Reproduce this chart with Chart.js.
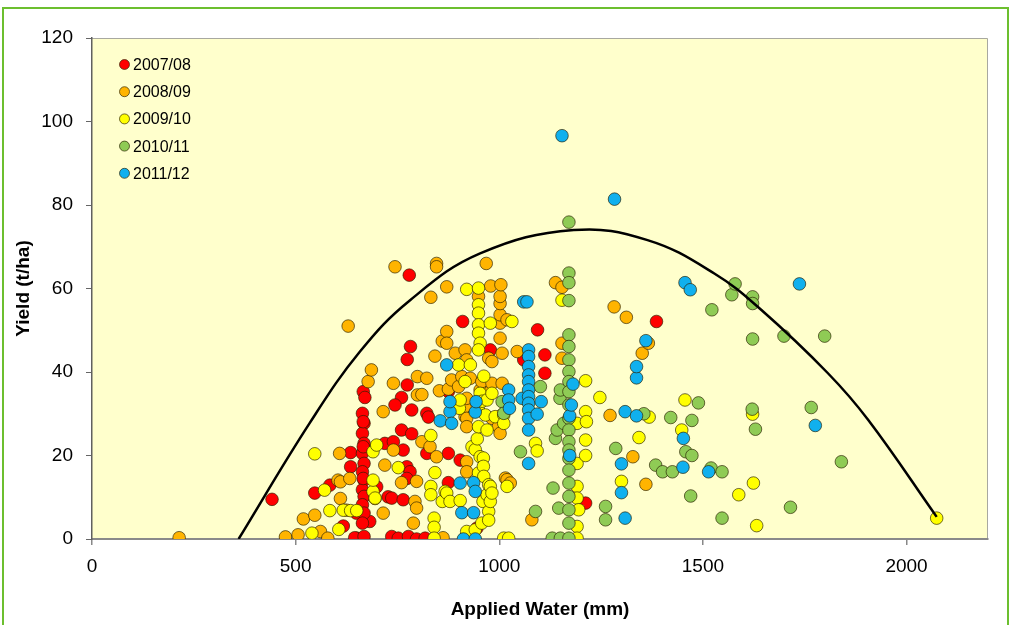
<!DOCTYPE html>
<html><head><meta charset="utf-8">
<script src="https://cdn.jsdelivr.net/npm/chart.js@4.4.1/dist/chart.umd.min.js"></script>
<style>
html,body{margin:0;padding:0;background:#fff;overflow:hidden}
#wrap{position:relative;width:1011px;height:625px}
#frame{position:absolute;left:2px;top:7px;width:1007px;height:660px;border:2px solid #6cbf2f;box-sizing:border-box}
canvas{position:absolute;left:0;top:0}
</style></head><body>
<div id="wrap"><div id="frame"></div><canvas id="c" width="1011" height="625"></canvas></div>
<script>
// ---- data ----
const seriesNames = ["2007/08","2008/09","2009/10","2010/11","2011/12"];
const seriesColors = ["#ff0000","#ffb400","#ffff00","#8fcb55","#10b0ee"];
const xTickValues = [0,500,1000,1500,2000];
const yTickValues = [0,20,40,60,80,100,120];

const s0708 = [[442,9.5],[547,11.0],[584,12.9],[617,3.1],[635,20.7],[635,17.3],[650,0.2],[645,0.3],[649,6.2],[682,4.2],[699,12.5],[719,22.9],[727,10.1],[740,23.3],[764,21.3],[736,9.8],[764,9.4],[736,0.6],[752,0.2],[777,0.6],[797,0.0],[818,0.2],[773,17.3],[781,16.1],[773,14.5],[760,26.1],[785,25.2],[785,30.9],[822,30.1],[826,29.2],[760,33.9],[744,32.1],[774,36.9],[774,43.0],[782,46.1],[779,63.2],[822,20.5],[875,20.5],[904,18.9],[875,13.5],[875,35.3],[910,52.1],[978,45.3],[945,2.6],[1060,42.9],[1094,50.1],[1112,44.1],[1112,39.7],[1212,8.6],[1386,52.1],[666,35.3],[670,33.9],[664,30.1],[668,27.7],[664,25.3],[668,22.9],[664,20.5],[668,18.1],[664,16.1],[668,14.1],[664,11.8],[668,10.2],[664,8.2],[668,6.2],[664,3.8],[668,0.6],[666,28.1],[666,22.1],[666,14.5]];

const s0809 = [[214,0.3],[475,0.5],[506,1.0],[519,4.8],[547,5.7],[561,1.8],[579,0.2],[604,14.1],[608,20.5],[610,9.7],[610,13.7],[625,6.9],[629,51.0],[633,14.5],[678,37.7],[686,40.5],[695,9.7],[715,6.2],[715,30.5],[719,17.7],[740,21.3],[740,37.3],[744,65.2],[760,13.5],[789,3.8],[793,9.0],[797,7.4],[797,13.8],[799,34.5],[799,38.9],[810,34.6],[810,23.3],[822,38.5],[830,22.1],[832,57.9],[842,43.8],[846,19.7],[846,66.0],[846,65.2],[853,35.5],[860,47.4],[862,0.3],[871,49.7],[871,46.9],[871,60.4],[875,35.9],[883,38.1],[892,44.5],[900,36.5],[908,38.9],[916,45.3],[916,29.3],[916,31.7],[920,42.9],[920,33.7],[920,28.9],[920,26.9],[920,18.5],[920,16.1],[929,38.5],[949,58.1],[953,35.7],[957,37.7],[968,66.0],[974,43.3],[978,35.3],[979,60.6],[982,28.9],[982,37.3],[982,42.5],[998,26.9],[1002,25.3],[1002,48.1],[1002,51.7],[1002,53.7],[1002,56.4],[1002,58.1],[1004,60.9],[1007,29.7],[1007,37.3],[1007,44.5],[1015,14.6],[1019,52.5],[1019,14.2],[1027,13.4],[1044,44.9],[1080,4.6],[1138,61.4],[1154,60.3],[1154,46.9],[1154,43.3],[1272,29.6],[1282,55.6],[1312,53.1],[1328,19.7],[1351,44.5],[1360,13.1],[1366,46.9]];

const s0910 = [[540,1.4],[547,20.4],[571,11.7],[584,6.8],[606,2.3],[617,6.9],[635,6.8],[650,6.8],[690,11.4],[690,14.1],[690,20.9],[695,9.8],[699,22.5],[752,17.1],[832,24.8],[832,12.6],[832,10.6],[840,5.0],[840,2.8],[840,0.2],[842,15.9],[860,9.0],[867,11.4],[871,11.0],[879,9.0],[900,41.7],[902,31.3],[904,9.2],[904,33.3],[916,37.7],[920,1.8],[920,59.8],[929,41.7],[933,22.1],[941,21.4],[941,2.2],[946,24.0],[949,60.1],[949,56.1],[949,54.1],[949,51.3],[949,49.3],[953,46.9],[949,45.3],[949,30.9],[949,26.9],[949,15.8],[953,19.7],[953,34.9],[957,3.8],[958,33.0],[960,9.0],[961,19.4],[961,17.4],[962,39.0],[962,15.0],[966,29.7],[970,33.3],[970,26.1],[970,10.6],[974,13.0],[974,6.6],[974,4.5],[978,9.0],[978,51.7],[978,12.6],[982,34.9],[982,11.0],[990,29.3],[1011,29.7],[1011,27.7],[1011,0.2],[1019,12.6],[1023,0.2],[1031,52.1],[1089,22.9],[1093,21.1],[1154,57.2],[1191,27.7],[1191,18.1],[1191,12.6],[1191,9.8],[1195,7.0],[1191,3.0],[1191,0.2],[1212,37.9],[1212,30.5],[1214,28.1],[1212,23.7],[1212,20.0],[1247,33.9],[1300,13.8],[1343,24.3],[1368,29.2],[1448,26.1],[1456,33.3],[1588,10.6],[1622,29.9],[1624,13.4],[1632,3.2],[2074,5.0]];

const s1011 = [[1007,32.9],[1011,30.1],[1052,20.9],[1089,6.6],[1101,36.5],[1130,0.2],[1132,12.2],[1138,24.1],[1142,26.1],[1146,7.4],[1149,33.7],[1150,35.7],[1150,0.2],[1158,27.7],[1171,75.9],[1171,63.7],[1171,61.4],[1171,57.1],[1171,48.9],[1171,46.1],[1171,42.9],[1171,40.1],[1171,37.7],[1171,35.3],[1171,32.1],[1171,28.9],[1171,26.1],[1171,23.3],[1171,21.3],[1171,19.3],[1171,16.5],[1171,13.4],[1171,10.2],[1171,7.0],[1171,3.8],[1171,0.2],[1261,7.8],[1261,4.6],[1286,21.7],[1355,30.0],[1384,17.7],[1401,16.1],[1425,16.1],[1421,29.1],[1458,20.9],[1470,10.3],[1473,20.0],[1473,28.4],[1489,32.6],[1520,17.0],[1522,54.9],[1547,16.1],[1547,5.0],[1571,58.5],[1579,61.1],[1622,58.0],[1622,56.4],[1622,47.9],[1621,31.1],[1629,26.3],[1699,48.6],[1715,7.6],[1766,31.5],[1799,48.6],[1840,18.5]];

const s1112 = [[855,28.3],[871,41.7],[879,30.5],[879,32.9],[883,27.7],[904,13.4],[908,6.3],[912,0.0],[937,13.5],[937,6.3],[941,11.4],[941,0.0],[941,30.4],[943,32.9],[1023,35.7],[1023,33.3],[1025,31.3],[1056,33.7],[1060,56.8],[1068,56.8],[1072,45.3],[1072,43.7],[1072,41.3],[1072,39.3],[1072,37.7],[1072,35.7],[1072,34.1],[1072,32.5],[1072,30.9],[1072,28.9],[1072,26.1],[1072,18.1],[1093,29.9],[1103,32.9],[1154,96.6],[1173,20.0],[1173,29.5],[1177,32.1],[1181,37.1],[1283,81.4],[1300,18.0],[1300,11.1],[1309,30.5],[1309,5.0],[1337,29.5],[1337,38.6],[1337,41.3],[1360,47.5],[1451,17.2],[1452,24.1],[1456,61.4],[1469,59.7],[1514,16.1],[1737,61.1],[1776,27.2]];

const trendX = [360,534,658,781,953,1183,1364,1528,1643,1807,1906,2074];
const trendY = [0,27.7,44.9,57.2,68.4,74.0,71.6,63.6,54.9,39.7,28.5,5.3];

// ---- chart ----
const FONT = '"Liberation Sans", Arial, sans-serif';
const allSeries = [s0708,s0809,s0910,s1011,s1112];
const datasets = allSeries.map((s,i)=>({
  type:'scatter',
  label: seriesNames[i],
  data: s.map(p=>({x:p[0],y:p[1]})),
  backgroundColor: seriesColors[i],
  borderColor: 'rgba(40,30,0,0.65)',
  borderWidth: 1,
  pointRadius: 6.3,
  pointHoverRadius: 6.3,
  order: 5 - i + 1
}));
datasets.push({
  type:'line',
  label:'trend',
  data: trendX.map((x,i)=>({x:x,y:trendY[i]})),
  borderColor:'#000',
  borderWidth:2.5,
  pointRadius:0,
  fill:false,
  tension:0.4,
  order:0
});

const bgPlugin = {
  id:'bg',
  beforeDraw(chart){
    const {ctx, chartArea:a} = chart;
    ctx.save();
    ctx.fillStyle = '#ffffcc';
    ctx.fillRect(a.left, a.top, a.right-a.left, a.bottom-a.top);
    ctx.strokeStyle = '#a8a8a0';
    ctx.lineWidth = 1;
    ctx.beginPath();
    ctx.moveTo(a.left, a.top+0.5); ctx.lineTo(a.right-0.5, a.top+0.5); ctx.lineTo(a.right-0.5, a.bottom);
    ctx.stroke();
    ctx.restore();
  },
  afterDraw(chart){
    const ctx = chart.ctx;
    ctx.save();
    ctx.font = '16px ' + FONT;
    ctx.textBaseline = 'middle';
    ctx.textAlign = 'left';
    seriesNames.forEach((n,i)=>{
      const y = 64.5 + i*27.2;
      ctx.beginPath();
      ctx.arc(124.5, y, 5, 0, Math.PI*2);
      ctx.fillStyle = seriesColors[i];
      ctx.fill();
      ctx.lineWidth = 1;
      ctx.strokeStyle = 'rgba(40,30,0,0.65)';
      ctx.stroke();
      ctx.fillStyle = '#000';
      ctx.fillText(n, 133, y+1);
    });
    ctx.restore();
  }
};

new Chart(document.getElementById('c'), {
  data:{datasets},
  options:{
    responsive:false,
    animation:false,
    layout:{padding:{left:0,right:23,top:38,bottom:0}},
    plugins:{legend:{display:false},tooltip:{enabled:false}},
    scales:{
      x:{
        type:'linear', min:0, max:2200,
        afterBuildTicks(s){ s.ticks = xTickValues.map(v=>({value:v})); },
        afterFit(s){ s.height = 86; },
        grid:{drawOnChartArea:false, drawTicks:true, tickLength:6, color:'#888', lineWidth:1.5},
        border:{display:true, color:'#8a8a8a', width:2},
        ticks:{font:{family:FONT,size:19}, color:'#000', padding:10, maxRotation:0, callback:v=>String(v)},
        title:{display:true, text:'Applied Water (mm)', font:{family:FONT,size:19,weight:'bold'}, color:'#000', padding:{top:0,bottom:4}}
      },
      y:{
        type:'linear', min:0, max:120,
        afterBuildTicks(s){ s.ticks = yTickValues.map(v=>({value:v})); },
        afterFit(s){ s.width = 92; },
        grid:{drawOnChartArea:false, drawTicks:true, tickLength:6, color:'#666', lineWidth:1},
        border:{display:true, color:'#606060', width:1.5},
        ticks:{font:{family:FONT,size:19}, color:'#000', padding:13, callback:v=>String(v)},
        title:{display:true, text:'Yield (t/ha)', font:{family:FONT,size:19,weight:'bold'}, color:'#000', padding:{top:12,bottom:0}}
      }
    }
  },
  plugins:[bgPlugin]
});
</script>
</body></html>
